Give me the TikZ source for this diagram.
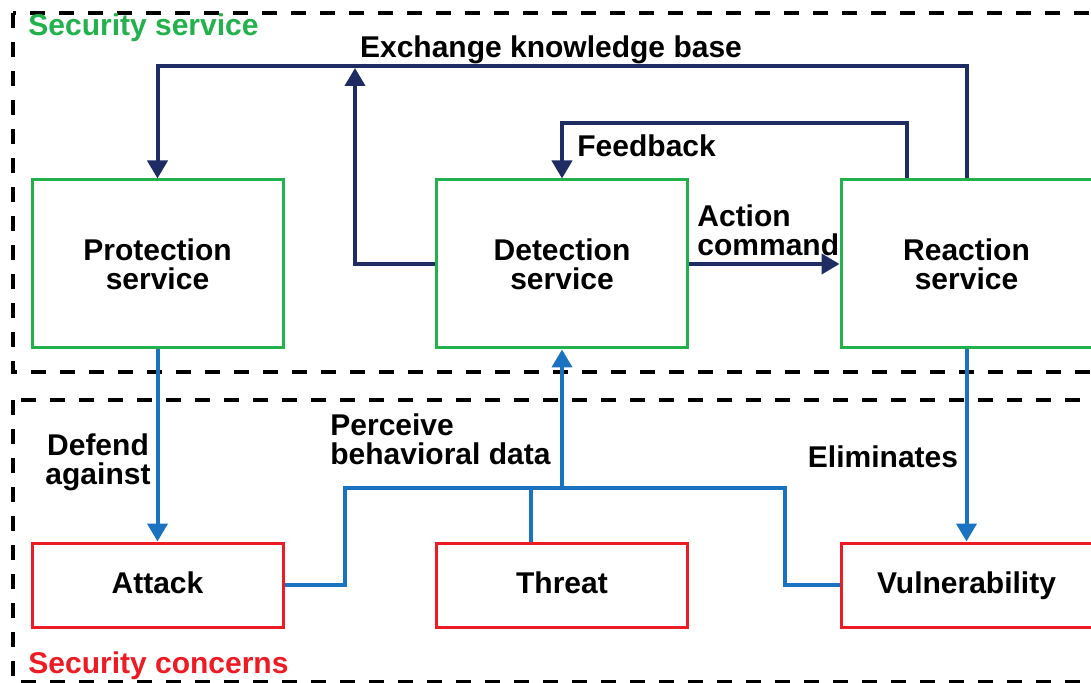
\documentclass[tikz,border=0pt]{standalone}
\usepackage{fontspec}
\setmainfont{Liberation Sans}
\usetikzlibrary{arrows.meta, positioning}
\usepackage{xcolor}
\definecolor{svcgreen}{RGB}{34,177,76}
\definecolor{concernred}{RGB}{237,28,36}
\definecolor{cmdnavy}{RGB}{31,43,99}
\definecolor{dataBlue}{RGB}{26,115,192}
\def\boxwidth{125.5pt}

\begin{document}
\begin{tikzpicture}[x=0.5pt,y=-0.5pt, font=\fontsize{15}{14.5}\selectfont\bfseries]
    \tikzstyle{region}=[draw=black, line width=2.2pt, dash pattern=on 7.5pt off 7pt]
    \tikzstyle{service}=[rectangle, draw=svcgreen, line width=1.5pt, minimum width=\boxwidth, minimum height=84pt, align=center]
    \tikzstyle{concern}=[rectangle, draw=concernred, line width=1.5pt, minimum width=\boxwidth, minimum height=42pt, text height=11pt, text depth=3pt]
    \tikzstyle{cmd}=[draw=cmdnavy, line width=2pt, -{Triangle[width=10pt,length=9pt]}]
    \tikzstyle{data}=[draw=dataBlue, line width=2pt]
    \tikzstyle{annot}=[inner sep=0pt, align=left]

    \useasboundingbox (0,0) rectangle (1091,683);

    % Draw the two dashed regions
    \draw[region] (13,13) rectangle (1120,372);
    \draw[region] (13,400) rectangle (1120,682);
    \node[annot, anchor=west, text=svcgreen] (svc) at (28,28) {Security service};
    \node[annot, anchor=west, text=concernred] (conc) at (28,666) {Security concerns};

    % Draw the service boxes
    \node[service] (prot) at (157.5,264) {Protection\\service};
    \node[service] (detect) at (562,264) {Detection\\service};
    \node[service] (react) at (966.5,264) {Reaction\\service};

    % Draw the concern boxes
    \node[concern] (attack) at (157.5,585) {Attack};
    \node[concern] (threat) at (562,585) {Threat};
    \node[concern] (vuln) at (966.5,585) {Vulnerability};

    \coordinate (kbjoin) at (355,68);
    \coordinate (bus) at (562,488);

    % Connect the services with each other
    \draw[cmd] (react.north) -- ++(0,-112) -| (prot.north);
    \draw[cmd] (detect.west) -| (kbjoin);
    \draw[cmd] (react.north) ++(-60,0) -- ++(0,-55) -| (detect.north);
    \draw[cmd] (detect.east) -- (react.west);
    \node[annot] (kb) at (551,50) {Exchange knowledge base};
    \node[annot, anchor=west] (fb) at (577,146) {Feedback};
    \node[annot, anchor=west] (ac) at (697,230) {Action\\command};

    % Connect the services with the concerns
    \draw[data, -{Triangle[width=10pt,length=9pt]}] (prot.south) -- (attack.north);
    \draw[data, -{Triangle[width=10pt,length=9pt]}] (react.south) -- (vuln.north);
    \draw[data] (attack.east) -- ++(60,0) |- (bus);
    \draw[data] (vuln.west) -- ++(-55,0) |- (bus);
    \draw[data] (threat.north) ++(-31,0) -- ++(0,-55);
    \draw[data, -{Triangle[width=10pt,length=9pt]}] (bus) -- (detect.south);
    \node[annot, align=center] (def) at (98,462) {Defend\\against};
    \node[annot, anchor=west] (perc) at (330,439) {Perceive\\behavioral data};
    \node[annot] (elim) at (883,457) {Eliminates};
\end{tikzpicture}
\end{document}
